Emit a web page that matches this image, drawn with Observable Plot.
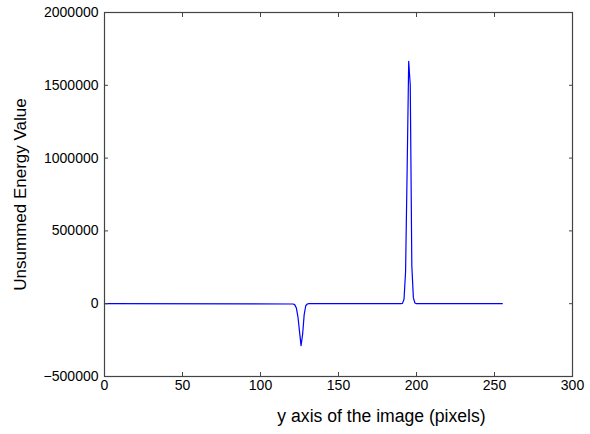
<!DOCTYPE html>
<html>
<head>
<meta charset="utf-8">
<script src="https://cdn.jsdelivr.net/npm/d3@7"></script>
<script src="https://cdn.jsdelivr.net/npm/@observablehq/plot@0.6"></script>
<style>
  html, body { margin: 0; padding: 0; background: #fff; }
</style>
</head>
<body>
<div id="chart"></div>
<script>
const pixelY = [0, 121, 122, 123, 124, 125, 126, 127, 128, 129, 130, 131,
                190, 191, 192, 193, 194, 195, 196, 197, 198, 199, 200, 255];
const energy = [0, -2000, -8000, -30000, -90000, -190000, -288000, -210000, -75000, -14000, -2000, 0,
                0, 2000, 30000, 220000, 920000, 1665000, 1500000, 260000, 40000, 5000, 0, 0];
const xTicks = [0, 50, 100, 150, 200, 250, 300];
const yTicks = [-500000, 0, 500000, 1000000, 1500000, 2000000];

const data = pixelY.map((p, i) => ({x: p, y: energy[i]}));
const fmt = d3.format("d");

const chart = Plot.plot({
  width: 590,
  height: 434,
  marginLeft: 104,
  marginRight: 18,
  marginTop: 12,
  marginBottom: 58,
  style: {fontFamily: "'Liberation Sans', Arial, sans-serif", fontSize: "14px", color: "#000", background: "#fff"},
  x: {domain: [0, 300]},
  y: {domain: [-500000, 2000000]},
  marks: [
    Plot.line(data, {x: "x", y: "y", stroke: "#0000ff", strokeWidth: 1.2}),
    Plot.axisX(xTicks, {anchor: "bottom", tickSize: 0, tickPadding: 4, tickFormat: fmt, label: null, fontSize: 14}),
    Plot.axisX(xTicks, {anchor: "bottom", tickSize: -4, text: null, label: null, stroke: "#444"}),
    Plot.axisX(xTicks, {anchor: "top", tickSize: -4, text: null, label: null, stroke: "#444"}),
    Plot.axisY(yTicks, {anchor: "left", tickSize: 0, tickPadding: 6, tickFormat: fmt, label: null, fontSize: 14}),
    Plot.axisY(yTicks, {anchor: "left", tickSize: -4, text: null, label: null, stroke: "#444"}),
    Plot.axisY(yTicks, {anchor: "right", tickSize: -4, text: null, label: null, stroke: "#444"}),
    Plot.frame({stroke: "#444", strokeWidth: 1.2}),
    Plot.text(["Unsummed Energy Value"], {frameAnchor: "left", rotate: -90, dx: -84, textAnchor: "middle", fontSize: 17}),
    Plot.text(["y axis of the image (pixels)"], {frameAnchor: "bottom", dx: 43, dy: 45, textAnchor: "middle", fontSize: 17.6})
  ]
});
document.getElementById("chart").appendChild(chart);
</script>
</body>
</html>
